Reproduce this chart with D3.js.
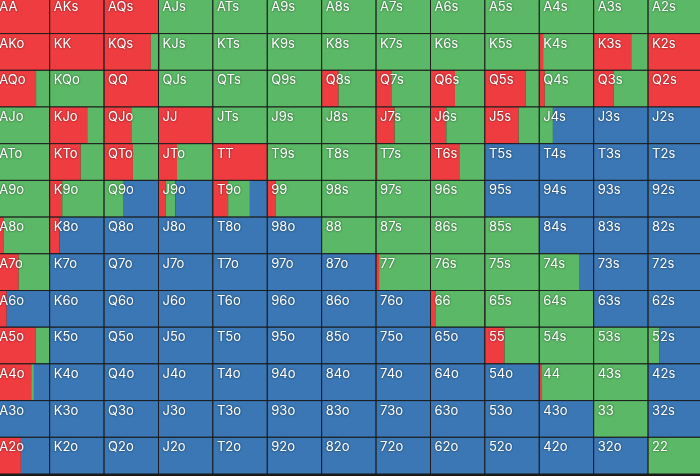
<!DOCTYPE html>
<html>
<head>
<meta charset="utf-8">
<script src="https://cdn.jsdelivr.net/npm/d3@7"></script>
<style>
  body { margin: 0; background: #1a1a1a; overflow: hidden; }
  svg { display: block; }
  .label {
    font-family: Inter, "Noto Sans", sans-serif;
    font-size: 13px;
    fill: #fff;
    filter: drop-shadow(0 0 1px rgba(0, 0, 0, 0.55));
  }
</style>
</head>
<body>
<script>
const ranks = ["A", "K", "Q", "J", "T", "9", "8", "7", "6", "5", "4", "3", "2"];

// share of each hand that is raised, row by row (rest after call is fold)
const raiseFreq = [
  [1, 1, 1, 0, 0, 0, 0, 0, 0, 0, 0, 0, 0],
  [1, 1, 0.86, 0.02, 0, 0, 0, 0, 0, 0, 0.07, 0.69, 1],
  [0.75, 0, 1, 0, 0, 0, 0.31, 0.28, 0.45, 0.75, 0.1, 0.37, 1],
  [0, 0.69, 0.5, 1, 0, 0, 0, 0.34, 0.29, 0.62, 0, 0, 0],
  [0.08, 0.57, 0.53, 0.34, 1, 0, 0, 0.02, 0.53, 0, 0, 0, 0],
  [0, 0.23, 0, 0.13, 0.28, 0.15, 0, 0, 0, 0, 0, 0, 0],
  [0.15, 0.18, 0, 0, 0, 0, 0, 0, 0, 0, 0, 0, 0],
  [0.43, 0, 0, 0, 0, 0, 0, 0.055, 0, 0, 0, 0, 0],
  [0.21, 0, 0, 0, 0, 0, 0, 0, 0.1, 0.02, 0, 0, 0],
  [0.74, 0, 0, 0, 0, 0, 0, 0, 0, 0.36, 0, 0, 0],
  [0.66, 0, 0, 0, 0, 0, 0, 0, 0, 0, 0.05, 0, 0],
  [0, 0, 0, 0, 0, 0, 0, 0, 0, 0, 0, 0, 0],
  [0.47, 0, 0, 0, 0, 0, 0, 0, 0, 0, 0, 0, 0],
];

// share of each hand that is called
const callFreq = [
  [0, 0, 0, 1, 1, 1, 1, 1, 1, 1, 1, 1, 1],
  [0, 0, 0.14, 0.98, 1, 1, 1, 1, 1, 1, 0.93, 0.31, 0],
  [0.25, 1, 0, 1, 1, 1, 0.69, 0.72, 0.55, 0.25, 0.9, 0.63, 0],
  [1, 0.31, 0.5, 0, 1, 1, 1, 0.66, 0.71, 0.38, 0.25, 0, 0],
  [0.92, 0.43, 0.47, 0.66, 0, 1, 1, 0.98, 0.47, 0, 0, 0, 0],
  [1, 0.77, 0.36, 0.18, 0.4, 0.85, 1, 1, 1, 0, 0, 0, 0],
  [0.85, 0, 0, 0, 0, 0, 1, 1, 1, 1, 0, 0, 0],
  [0.57, 0, 0, 0, 0, 0, 0, 0.945, 1, 1, 0.73, 0, 0],
  [0, 0, 0, 0, 0, 0, 0, 0, 0.9, 0.98, 1, 0, 0],
  [0.26, 0, 0, 0, 0, 0, 0, 0, 0, 0.64, 1, 1, 0.21],
  [0.05, 0, 0, 0, 0, 0, 0, 0, 0, 0, 0.95, 1, 0],
  [0, 0, 0, 0, 0, 0, 0, 0, 0, 0, 0, 1, 0],
  [0, 0, 0, 0, 0, 0, 0, 0, 0, 0, 0, 0, 1],
];

const actions = ["raise", "call", "fold"];
const actionColors = ["#ef3c40", "#5bb866", "#3a77b4"];

const width = 700;
const height = 476;

const svg = d3
  .select("body")
  .append("svg")
  .attr("width", width)
  .attr("height", height);

// grid is a bit wider than the window, like the cropped screenshot
const x = d3.scaleBand().domain(d3.range(13)).range([-4.7, 702.5]);
const y = d3.scaleBand().domain(d3.range(13)).range([-3.1, 474]);
const color = d3.scaleOrdinal().domain(actions).range(actionColors);

function handName(i, j) {
  if (i === j) return ranks[i] + ranks[j];
  if (j > i) return ranks[i] + ranks[j] + "s";
  return ranks[j] + ranks[i] + "o";
}

const cells = [];
ranks.forEach((r, i) => {
  ranks.forEach((c, j) => {
    const raise = raiseFreq[i][j];
    const call = callFreq[i][j];
    cells.push({
      row: i,
      col: j,
      name: handName(i, j),
      parts: [
        { action: "raise", start: 0, end: raise },
        { action: "call", start: raise, end: raise + call },
        { action: "fold", start: raise + call, end: 1 },
      ],
    });
  });
});

const w = d3.scaleLinear().domain([0, 1]).range([0, x.bandwidth()]);

const cell = svg
  .selectAll(".cell")
  .data(cells)
  .enter()
  .append("g")
  .attr("class", "cell")
  .attr("transform", (d) => `translate(${x(d.col)},${y(d.row)})`);

// stacked action bars
cell
  .selectAll("rect.part")
  .data((d) => d.parts.filter((p) => p.end - p.start > 0.001))
  .enter()
  .append("rect")
  .attr("class", "part")
  .attr("x", (p) => w(p.start))
  .attr("y", 0)
  .attr("width", (p) => w(p.end) - w(p.start))
  .attr("height", y.bandwidth())
  .attr("fill", (p) => color(p.action));

// cell borders
cell
  .append("rect")
  .attr("x", 0)
  .attr("y", 0)
  .attr("width", x.bandwidth())
  .attr("height", y.bandwidth())
  .attr("fill", "none")
  .attr("stroke", "#1c1c1c")
  .attr("stroke-width", 1);

// hand labels, top-left of each cell
cell
  .append("text")
  .attr("class", "label")
  .attr("x", 4)
  .attr("y", 14)
  .text((d) => d.name);
</script>
</body>
</html>
